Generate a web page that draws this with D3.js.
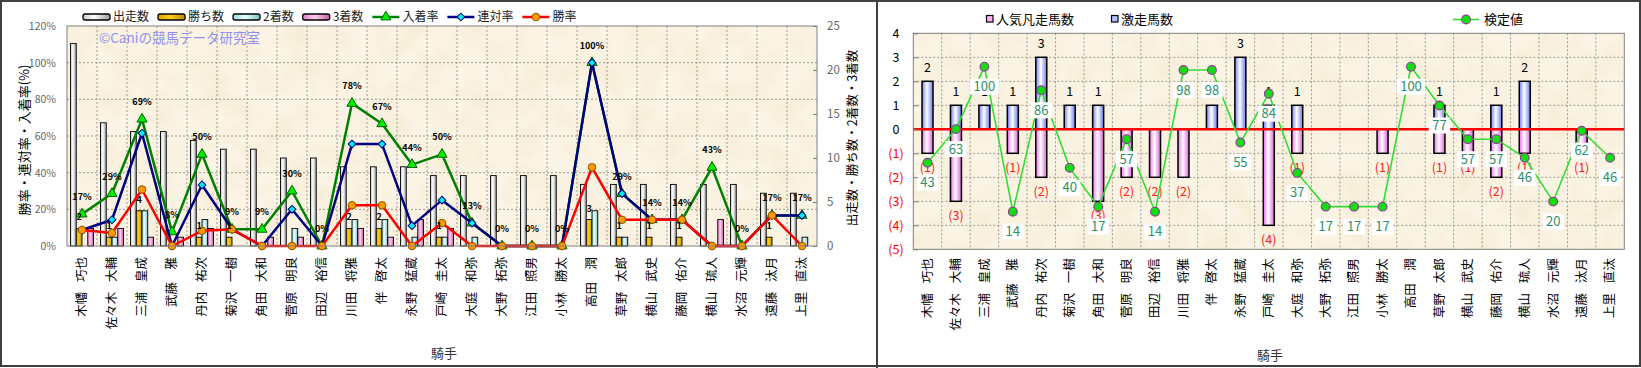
<!DOCTYPE html>
<html><head><meta charset="utf-8">
<script src="https://cdn.jsdelivr.net/npm/d3@7"></script>
<style>
body{margin:0;background:#fff}
svg{display:block}
text{font-family:"Noto Sans CJK JP","Noto Sans",sans-serif}
</style>
</head><body>
<svg id="c" width="1641" height="368"></svg>
<script>
// ---------------- data ----------------
const jockeys = ["木幡 巧也","佐々木 大輔","三浦 皇成","武藤　雅","丹内 祐次","菊沢 一樹","角田 大和","菅原 明良","田辺 裕信","川田 将雅","伴 啓太","永野 猛蔵","戸崎 圭太","大庭 和弥","大野 拓弥","江田 照男","小林 勝太","高田　潤","草野 太郎","横山 武史","藤岡 佑介","横山 琉人","水沼 元輝","遠藤 汰月","上里 直汰"];
const starts  = [23,14,13,13,12,11,11,10,10,9,9,9,8,8,8,8,8,7,7,7,7,7,7,6,6];
const wins    = [2,1,4,0,1,1,0,0,0,2,2,0,1,0,0,0,0,3,1,1,1,0,0,1,0];
const seconds = [0,1,4,0,3,0,0,2,0,3,3,1,1,1,0,0,0,4,1,0,0,0,0,0,1];
const thirds  = [2,2,1,1,2,0,1,1,0,2,1,3,2,0,0,0,0,0,0,0,0,3,0,0,0];
const winRate    = [8.7,7.1,30.8,0,8.3,9.1,0,0,0,22.2,22.2,0,12.5,0,0,0,0,42.9,14.3,14.3,14.3,0,0,16.7,0];
const rentaiRate = [8.7,14.3,61.5,0,33.3,9.1,0,20,0,55.6,55.6,11.1,25,12.5,0,0,0,100,28.6,14.3,14.3,0,0,16.7,16.7];
const placeRate  = [17.4,28.6,69.2,7.7,50,9.1,9.1,30,0,77.8,66.7,44.4,50,12.5,0,0,0,100,28.6,14.3,14.3,42.9,0,16.7,16.7];
const pctTicks = [0,20,40,60,80,100,120];
const cntTicks = [0,5,10,15,20,25];

const gekisou = [2,1,1,1,3,1,1,0,0,0,1,3,1,1,0,0,0,0,1,0,1,2,0,0,0];   // 激走馬数
const bonsou  = [1,3,0,1,2,0,3,2,2,2,0,0,4,1,0,0,1,0,1,1,2,1,0,1,0];   // 人気凡走馬数
const kentei  = [43,63,100,14,86,40,17,57,14,98,98,55,84,37,17,17,17,100,77,57,57,46,20,62,46];
const rTicks  = [-5,-4,-3,-2,-1,0,1,2,3,4];

// ---------------- setup ----------------
const svg = d3.select("#c");
const defs = svg.append("defs");
function hGrad(id, stops){
  const g = defs.append("linearGradient").attr("id",id).attr("x1",0).attr("x2",1).attr("y1",0).attr("y2",0);
  stops.forEach(([o,c])=>g.append("stop").attr("offset",o).attr("stop-color",c));
}
hGrad("gStart",[[0,"#c4c4c4"],[0.4,"#ffffff"],[1,"#9a9a9a"]]);
hGrad("gWin",[[0,"#dca400"],[0.45,"#ffcc10"],[1,"#b88a00"]]);
hGrad("gSecond",[[0,"#98dcdc"],[0.45,"#e8ffff"],[1,"#78c0c0"]]);
hGrad("gThird",[[0,"#e07cc4"],[0.45,"#ffcdee"],[1,"#c060a0"]]);
hGrad("gBlue",[[0,"#6f80ff"],[0.45,"#ffffff"],[1,"#6878f0"]]);
hGrad("gPink",[[0,"#ec70ec"],[0.45,"#ffffff"],[1,"#de60de"]]);
const f = defs.append("filter").attr("id","paper").attr("x",0).attr("y",0).attr("width","100%").attr("height","100%");
f.append("feTurbulence").attr("type","fractalNoise").attr("baseFrequency","0.035").attr("numOctaves",3).attr("seed",7);
f.append("feColorMatrix").attr("type","matrix").attr("values","0 0 0 0 0.86  0 0 0 0 0.74  0 0 0 0 0.52  0.8 0 0 0 -0.32");

const NUM = "'Liberation Sans',Arial,sans-serif";

function paperRect(g, x0,y0,x1,y1){
  g.append("rect").attr("x",x0).attr("y",y0).attr("width",x1-x0).attr("height",y1-y0).attr("fill","#fbf4e4");
  g.append("rect").attr("x",x0).attr("y",y0).attr("width",x1-x0).attr("height",y1-y0).attr("filter","url(#paper)");
}

function marker(g, type, x, y){
  if(type==="tri"){
    g.append("path").attr("d",d3.symbol().type(d3.symbolTriangle).size(44)()).attr("transform",`translate(${x},${y})`)
     .attr("fill","#00ee00").attr("stroke","#006400").attr("stroke-width",1);
  } else if(type==="dia"){
    g.append("path").attr("d",d3.symbol().type(d3.symbolSquare).size(30)()).attr("transform",`translate(${x},${y}) rotate(45)`)
     .attr("fill","#00f0f0").attr("stroke","#000080").attr("stroke-width",1);
  } else {
    g.append("circle").attr("cx",x).attr("cy",y).attr("r",3.8).attr("fill","#ff9900").attr("stroke","#8a5500").attr("stroke-width",1);
  }
}

// outer borders
svg.append("rect").attr("x",1).attr("y",1).attr("width",1639).attr("height",365).attr("fill","none").attr("stroke","#404040").attr("stroke-width",2);
svg.append("line").attr("x1",877).attr("x2",877).attr("y1",0).attr("y2",368).attr("stroke","#404040").attr("stroke-width",2);

// ================= LEFT CHART =================
const L = {x0:67, x1:817, y0:26, y1:246};
const xL = d3.scaleBand().domain(jockeys).range([L.x0,L.x1]);
const yPct = d3.scaleLinear().domain([0,120]).range([L.y1,L.y0]);
const yCnt = d3.scaleLinear().domain([0,25]).range([L.y1,L.y0]);
const countSeries = [
  {key:"出走数", values:starts, grad:"gStart"},
  {key:"勝ち数", values:wins, grad:"gWin"},
  {key:"2着数", values:seconds, grad:"gSecond"},
  {key:"3着数", values:thirds, grad:"gThird"}
];
const inner = d3.scaleBand().domain(countSeries.map(s=>s.key)).range([-11.5,11.5]);
const cL = j => xL(j) + xL.bandwidth()/2;

const gL = svg.append("g");
paperRect(gL, L.x0,L.y0,L.x1,L.y1);
// grid
gL.append("g").selectAll("line").data(pctTicks.filter(t=>t>0&&t<120)).join("line")
  .attr("x1",L.x0).attr("x2",L.x1).attr("y1",d=>yPct(d)).attr("y2",d=>yPct(d))
  .attr("stroke","#a09c94").attr("stroke-dasharray","2,2");
gL.append("g").selectAll("line").data(jockeys.slice(1)).join("line")
  .attr("x1",d=>xL(d)).attr("x2",d=>xL(d)).attr("y1",L.y0).attr("y2",L.y1)
  .attr("stroke","#a09c94").attr("stroke-dasharray","2,2");

// bars
countSeries.forEach(s=>{
  gL.append("g").selectAll("rect").data(jockeys.map((j,i)=>({j,v:s.values[i]})).filter(d=>d.v>0)).join("rect")
    .attr("x",d=>cL(d.j)+inner(s.key)).attr("width",inner.bandwidth())
    .attr("y",d=>yCnt(d.v)).attr("height",d=>yCnt(0)-yCnt(d.v))
    .attr("fill",`url(#${s.grad})`).attr("stroke","#000").attr("stroke-width",0.9);
});

// lines
const rateSeries = [
  {key:"入着率", values:placeRate, color:"#008000", mk:"tri"},
  {key:"連対率", values:rentaiRate, color:"#000080", mk:"dia"},
  {key:"勝率", values:winRate, color:"#ff0000", mk:"circ"}
];
rateSeries.forEach(s=>{
  const g = gL.append("g");
  const line = d3.line().x((d,i)=>cL(jockeys[i])).y(d=>yPct(d));
  g.append("path").attr("d",line(s.values)).attr("fill","none").attr("stroke",s.color).attr("stroke-width",2.5).attr("stroke-linejoin","round");
  s.values.forEach((v,i)=>marker(g,s.mk,cL(jockeys[i]),yPct(v)));
});

// data labels
gL.append("g").selectAll("text").data(placeRate).join("text")
  .attr("x",(d,i)=>cL(jockeys[i])).attr("y",d=>yPct(d)-14)
  .attr("text-anchor","middle").attr("font-family",NUM).attr("font-weight","bold").attr("font-size",9)
  .text(d=>Math.round(d)+"%");
gL.append("g").selectAll("text").data(wins.map((v,i)=>({v,i})).filter(d=>d.v>0)).join("text")
  .attr("x",d=>cL(jockeys[d.i])+inner("勝ち数")+inner.bandwidth()/2).attr("y",d=>yCnt(d.v)-8)
  .attr("text-anchor","middle").attr("font-family",NUM).attr("font-weight","bold").attr("font-size",9)
  .text(d=>d.v);

// border
gL.append("rect").attr("x",L.x0).attr("y",L.y0).attr("width",L.x1-L.x0).attr("height",L.y1-L.y0)
  .attr("fill","none").attr("stroke","#808080").attr("stroke-width",1);

// axes
const axL = gL.append("g").attr("transform",`translate(${L.x0},0)`)
  .call(d3.axisLeft(yPct).tickValues(pctTicks).tickFormat(d=>d+"%").tickSize(0).tickPadding(11));
axL.select(".domain").remove();
axL.selectAll("text").attr("font-family",NUM).attr("font-size",10.5).attr("fill","#666");
const axR = gL.append("g").attr("transform",`translate(${L.x1},0)`)
  .call(d3.axisRight(yCnt).tickValues(cntTicks).tickSize(-4).tickPadding(10));
axR.select(".domain").remove();
axR.selectAll("line").attr("stroke","#808080");
axR.selectAll("text").attr("font-family",NUM).attr("font-size",11.5).attr("fill","#666");
const axB = gL.append("g").attr("transform",`translate(0,${L.y1})`)
  .call(d3.axisBottom(xL).tickSize(0));
axB.select(".domain").remove();
axB.selectAll("text").attr("transform","rotate(-90)").attr("x",-11).attr("y",0).attr("dy","0.35em")
  .attr("text-anchor","end").attr("font-family","'Noto Sans CJK JP',sans-serif").attr("font-size",12.5)
  .attr("fill","#000").style("word-spacing","7px");

// axis titles
gL.append("text").attr("transform","translate(24,140) rotate(-90)").attr("text-anchor","middle").attr("dy","0.35em")
  .attr("font-size",13).text("勝率・連対率・入着率(%)");
gL.append("text").attr("transform","translate(853,138) rotate(-90)").attr("text-anchor","middle").attr("dy","0.35em")
  .attr("font-size",12.5).text("出走数・勝ち数・2着数・3着数");
gL.append("text").attr("x",444).attr("y",353).attr("dy","0.35em").attr("text-anchor","middle").attr("font-size",13).attr("fill","#333").text("騎手");

// watermark
gL.append("text").attr("x",99).attr("y",38).attr("dy","0.35em").attr("font-size",13.5).attr("fill","#9090ee").text("©Caniの競馬データ研究室");

// legend
const legItems = [
  {t:"bar",grad:"gStart",label:"出走数"},{t:"bar",grad:"gWin",label:"勝ち数"},
  {t:"bar",grad:"gSecond",label:"2着数"},{t:"bar",grad:"gThird",label:"3着数"},
  {t:"line",color:"#008000",mk:"tri",label:"入着率"},{t:"line",color:"#000080",mk:"dia",label:"連対率"},
  {t:"line",color:"#ff0000",mk:"circ",label:"勝率"}
];
let lx = 83; const ly = 17;
legItems.forEach(it=>{
  const g = gL.append("g");
  if(it.t==="bar"){
    g.append("rect").attr("x",lx).attr("y",ly-3).attr("width",27).attr("height",6).attr("rx",2)
      .attr("fill",`url(#${it.grad})`).attr("stroke","#000").attr("stroke-width",1.3);
  } else {
    g.append("line").attr("x1",lx).attr("x2",lx+27).attr("y1",ly).attr("y2",ly).attr("stroke",it.color).attr("stroke-width",2.5);
    marker(g,it.mk,lx+13.5,ly);
  }
  const t = g.append("text").attr("x",lx+30).attr("y",ly).attr("dy","0.35em").attr("font-size",12).attr("fill","#222").text(it.label);
  lx += 30 + t.node().getComputedTextLength() + 9;
});

// ================= RIGHT CHART =================
const R = {x0:913.3, x1:1624.3, y0:33.3, y1:249.3};
const xR = d3.scaleBand().domain(jockeys).range([R.x0,R.x1]);
const yR = d3.scaleLinear().domain([-5,4]).range([R.y1,R.y0]);
const yK = d3.scaleLinear().domain([0,100]).range([235.3,66.7]);
const cR = j => xR(j) + xR.bandwidth()/2;
const bw = 11;

const gR = svg.append("g");
paperRect(gR, R.x0,R.y0,R.x1,R.y1);
gR.append("g").selectAll("line").data(rTicks.filter(t=>t>-5&&t<4&&t!==0)).join("line")
  .attr("x1",R.x0).attr("x2",R.x1).attr("y1",d=>yR(d)).attr("y2",d=>yR(d))
  .attr("stroke","#a09c94").attr("stroke-dasharray","2,2");
gR.append("g").selectAll("line").data(jockeys.slice(1)).join("line")
  .attr("x1",d=>xR(d)).attr("x2",d=>xR(d)).attr("y1",R.y0).attr("y2",R.y1)
  .attr("stroke","#a09c94").attr("stroke-dasharray","2,2");

// bars
gR.append("g").selectAll("rect").data(jockeys.map((j,i)=>({j,v:gekisou[i]})).filter(d=>d.v>0)).join("rect")
  .attr("x",d=>cR(d.j)-bw/2).attr("width",bw).attr("y",d=>yR(d.v)).attr("height",d=>yR(0)-yR(d.v))
  .attr("fill","url(#gBlue)").attr("stroke","#000").attr("stroke-width",1.5);
gR.append("g").selectAll("rect").data(jockeys.map((j,i)=>({j,v:bonsou[i]})).filter(d=>d.v>0)).join("rect")
  .attr("x",d=>cR(d.j)-bw/2).attr("width",bw).attr("y",yR(0)).attr("height",d=>yR(-d.v)-yR(0))
  .attr("fill","url(#gPink)").attr("stroke","#000").attr("stroke-width",1.5);

// zero line
gR.append("line").attr("x1",R.x0).attr("x2",R.x1).attr("y1",yR(0)).attr("y2",yR(0)).attr("stroke","#ff0000").attr("stroke-width",2.6);

// bar labels
gR.append("g").selectAll("text").data(jockeys.map((j,i)=>({j,v:gekisou[i]})).filter(d=>d.v>0)).join("text")
  .attr("x",d=>cR(d.j)).attr("y",d=>yR(d.v)-14).attr("dy","0.35em").attr("text-anchor","middle")
  .attr("font-size",12.5).attr("fill","#000").text(d=>d.v);
gR.append("g").selectAll("text").data(jockeys.map((j,i)=>({j,v:bonsou[i]})).filter(d=>d.v>0)).join("text")
  .attr("x",d=>cR(d.j)).attr("y",d=>yR(-d.v)+14).attr("dy","0.35em").attr("text-anchor","middle")
  .attr("font-size",12.5).attr("fill","#ff2020").text(d=>`(${d.v})`);

// 検定値 line
const kLine = d3.line().x((d,i)=>cR(jockeys[i])).y(d=>yK(d));
gR.append("path").attr("d",kLine(kentei)).attr("fill","none").attr("stroke","#33dd33").attr("stroke-width",1.6);
gR.append("g").selectAll("circle").data(kentei).join("circle")
  .attr("cx",(d,i)=>cR(jockeys[i])).attr("cy",d=>yK(d)).attr("r",4.4)
  .attr("fill","#11dd11").attr("stroke","#993399").attr("stroke-width",1.1);
// 検定値 labels
kentei.forEach((v,i)=>{
  const g = gR.append("g");
  const r = g.append("rect").attr("fill","#fff");
  const t = g.append("text").attr("x",cR(jockeys[i])).attr("y",yK(v)+20).attr("dy","0.35em").attr("text-anchor","middle")
    .attr("font-size",13).attr("fill","#2e9068").text(v);
  const w = t.node().getComputedTextLength() + 7;
  r.attr("x",cR(jockeys[i])-w/2).attr("y",yK(v)+20-8).attr("width",w).attr("height",16);
});

// border
gR.append("rect").attr("x",R.x0).attr("y",R.y0).attr("width",R.x1-R.x0).attr("height",R.y1-R.y0)
  .attr("fill","none").attr("stroke","#808080").attr("stroke-width",1);

// axes
const axRL = gR.append("g").attr("transform",`translate(${R.x0},0)`)
  .call(d3.axisLeft(yR).tickValues(rTicks).tickFormat(d=>d<0?`(${-d})`:d).tickSize(-5).tickPadding(17.3));
axRL.select(".domain").remove();
axRL.selectAll("line").attr("stroke","#808080");
axRL.selectAll("text").attr("text-anchor","middle").attr("font-family",NUM).attr("font-size",12.5)
  .attr("fill",d=>d<0?"#ff0000":"#000");
const axRB = gR.append("g").attr("transform",`translate(0,${R.y1})`)
  .call(d3.axisBottom(xR).tickSize(0));
axRB.select(".domain").remove();
axRB.selectAll("text").attr("transform","rotate(-90)").attr("x",-9).attr("y",0).attr("dy","0.35em")
  .attr("text-anchor","end").attr("font-family","'Noto Sans CJK JP',sans-serif").attr("font-size",12.5)
  .attr("fill","#000").style("word-spacing","7px");
gR.append("text").attr("x",1270).attr("y",355).attr("dy","0.35em").attr("text-anchor","middle").attr("font-size",13).attr("fill","#333").text("騎手");

// legend
const rly = 19;
gR.append("rect").attr("x",986.5).attr("y",rly-3.5).attr("width",6.5).attr("height",6.5).attr("fill","#ffb0f0").attr("stroke","#000").attr("stroke-width",1.2);
gR.append("text").attr("x",996).attr("y",rly).attr("dy","0.35em").attr("font-size",13).text("人気凡走馬数");
gR.append("rect").attr("x",1111.5).attr("y",rly-3.5).attr("width",6.5).attr("height",6.5).attr("fill","#b0c0ff").attr("stroke","#000").attr("stroke-width",1.2);
gR.append("text").attr("x",1121).attr("y",rly).attr("dy","0.35em").attr("font-size",13).text("激走馬数");
gR.append("line").attr("x1",1453).attr("x2",1479).attr("y1",rly+0.5).attr("y2",rly+0.5).attr("stroke","#33dd33").attr("stroke-width",1.6);
gR.append("circle").attr("cx",1466).attr("cy",rly+0.5).attr("r",4.4).attr("fill","#11dd11").attr("stroke","#993399").attr("stroke-width",1.1);
gR.append("text").attr("x",1484).attr("y",rly+0.5).attr("dy","0.35em").attr("font-size",13).text("検定値");
</script>
</body></html>
